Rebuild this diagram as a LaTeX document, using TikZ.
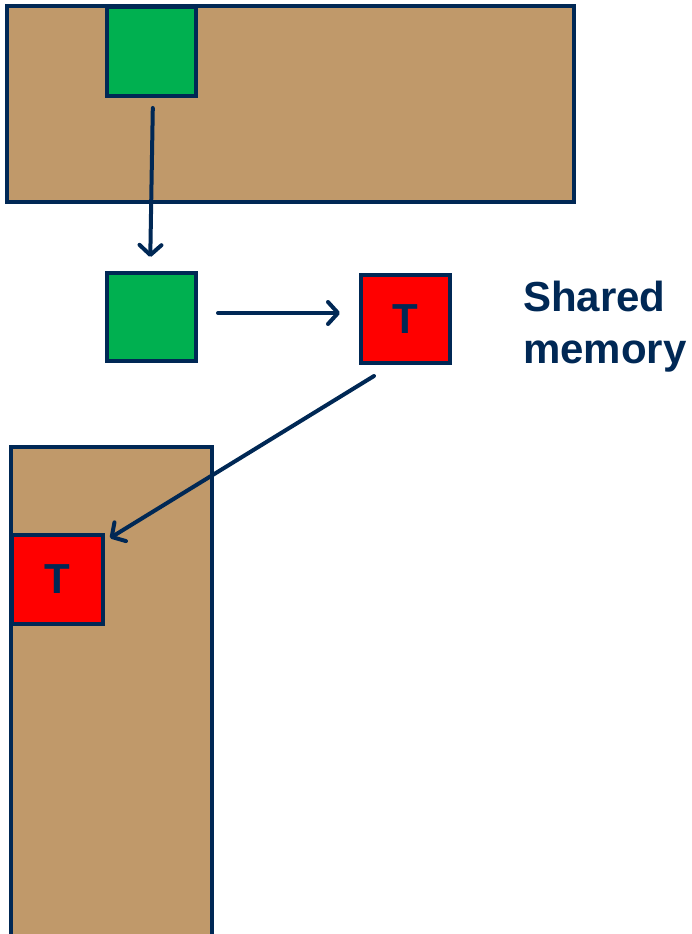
\documentclass[tikz,border=0pt]{standalone}
\usepackage{fontspec}
\setmainfont{Liberation Sans}
\usetikzlibrary{arrows.meta}
\definecolor{navy}{RGB}{0,40,85}
\definecolor{tan}{RGB}{192,153,106}
\definecolor{tilegreen}{RGB}{0,176,80}
\definecolor{tilered}{RGB}{255,0,0}
\tikzset{
  box/.style={draw=navy, line width=4pt, inner sep=0pt, outer sep=0pt},
  block/.style={box, fill=tan},
  greentile/.style={box, fill=tilegreen, minimum width=89pt, minimum height=89pt},
  redtile/.style={box, fill=tilered, text=navy,
    font=\bfseries\fontsize{42}{42}\selectfont},
  link/.style={draw=navy, line width=4pt, line cap=round,
    -{Straight Barb[length=10pt,width=22pt,line width=4pt,round]}},
  label/.style={text=navy, inner sep=0pt, align=left,
    font=\bfseries\fontsize{42}{52}\selectfont}
}
\begin{document}
\begin{tikzpicture}[x=1pt,y=-1pt]
\useasboundingbox (0,0) rectangle (692,934);
% upper block with its tile
\node[block, minimum width=567pt, minimum height=196pt] (top) at (290.5,104) {};
\node[greentile] (g1) at (151.5,51.5) {};
% lower block, running off the bottom edge
\fill[tan] (11,447) rectangle (212,934);
\draw[navy, line width=4pt] (11,938) -- (11,447) -- (212,447) -- (212,938);
% copied tiles
\node[greentile, minimum height=88pt] (g2) at (151.5,317) {};
\node[redtile, minimum width=89pt, minimum height=88pt] (r1) at (405.5,319) {T};
\node[redtile, minimum width=91pt, minimum height=89pt] (r2) at (57.5,579.5) {T};
% transfers
\draw[link, shorten <=12pt, shorten >=16pt] ([xshift=1.5pt]g1.south) -- ([xshift=-1.5pt]g2.north);
\draw[link, shorten <=22pt, shorten >=21pt] ([yshift=4pt]g2.east) -- ([yshift=6pt]r1.west);
\draw[link] ([xshift=-31.5pt,yshift=-13pt]r1.south) -- ([xshift=7pt,yshift=-3pt]r2.north east);
% caption
\node[label, anchor=base west] (mem) at (523,363) {Shared\\memory};
\end{tikzpicture}
\end{document}
